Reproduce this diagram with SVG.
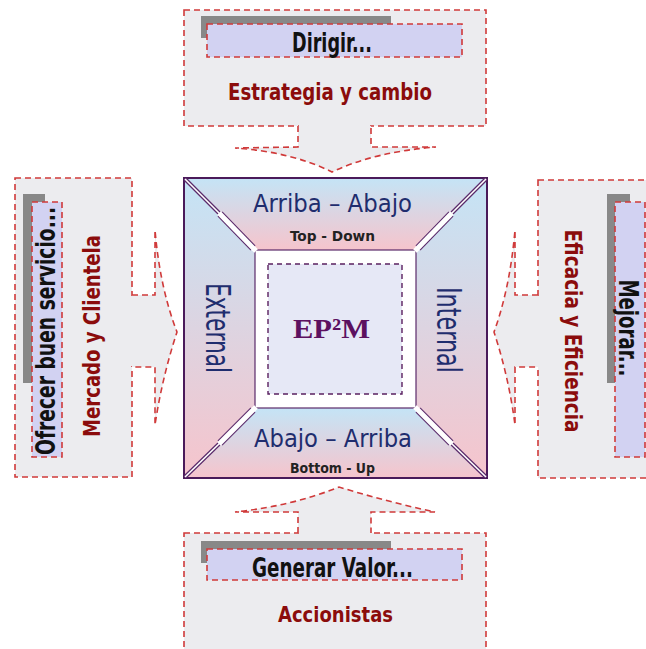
<svg xmlns="http://www.w3.org/2000/svg" width="646" height="649" viewBox="0 0 646 649">
<defs>
<linearGradient id="g" x1="0" y1="0" x2="0" y2="1">
<stop offset="0" stop-color="#c4e4f6"/>
<stop offset="1" stop-color="#f6c4cc"/>
</linearGradient>
<style>
.box{fill:#ececef;stroke:#d03a3a;stroke-width:1.6;stroke-dasharray:6 4}
.arrow{fill:#ececef;stroke:#d03a3a;stroke-width:1.6;stroke-dasharray:6 4}
.cover{fill:#ececef}
.shadow{fill:#888888}
.lab{fill:#d2d2f2;stroke:#d03a3a;stroke-width:1.6;stroke-dasharray:6 4}
.t1{font-family:'DejaVu Sans Condensed','DejaVu Sans',sans-serif;font-stretch:condensed;font-weight:bold;fill:#111111;text-anchor:middle}
.t2{font-family:'DejaVu Sans Condensed','DejaVu Sans',sans-serif;font-stretch:condensed;font-weight:bold;fill:#8b0c0c;text-anchor:middle}
.t3{font-family:'DejaVu Sans Condensed','DejaVu Sans',sans-serif;font-stretch:condensed;fill:#1f2d6e;text-anchor:middle}
.t4{font-family:'DejaVu Sans Condensed','DejaVu Sans',sans-serif;font-stretch:condensed;font-weight:bold;fill:#222222;text-anchor:middle}
.dgo{stroke:#5a2a6a;stroke-width:4;stroke-linecap:butt}
.dgi{stroke:#ffffff;stroke-width:1.6}
.dgo2{stroke:#5a2a6a;stroke-width:7}
.dgi2{stroke:#ffffff;stroke-width:5}
</style>
</defs>
<rect width="646" height="649" fill="#ffffff"/>

<g id="node-top">
<rect class="box" x="184" y="10" width="302" height="116"/>
<rect class="shadow" x="201" y="16" width="190" height="22"/>
<rect class="lab" x="207" y="24" width="255" height="33"/>
<text class="t1" x="332" y="52" font-size="26" textLength="80" lengthAdjust="spacingAndGlyphs">Dirigir...</text>
<text class="t2" x="330" y="100" font-size="23" textLength="204" lengthAdjust="spacingAndGlyphs">Estrategia y cambio</text>
</g>

<g id="node-bottom">
<rect class="box" x="184" y="533" width="302" height="130"/>
<rect class="shadow" x="201" y="541" width="190" height="22"/>
<rect class="lab" x="207" y="549" width="255" height="31"/>
<text class="t1" x="332.5" y="577" font-size="27" textLength="161" lengthAdjust="spacingAndGlyphs">Generar Valor...</text>
<text class="t2" x="335.5" y="622" font-size="22" textLength="115" lengthAdjust="spacingAndGlyphs">Accionistas</text>
</g>

<g id="node-left">
<rect class="box" x="15" y="178" width="117" height="299"/>
<rect class="shadow" x="23" y="194" width="22" height="189"/>
<rect class="lab" x="32" y="202" width="30" height="255"/>
<text class="t1" transform="translate(55,331) rotate(-90)" font-size="26" textLength="248" lengthAdjust="spacingAndGlyphs">Ofrecer buen servicio...</text>
<text class="t2" transform="translate(100,336) rotate(-90)" font-size="23" textLength="202" lengthAdjust="spacingAndGlyphs">Mercado y Clientela</text>
</g>

<g id="node-right">
<rect class="box" x="538" y="180" width="120" height="298"/>
<rect class="shadow" x="607" y="194" width="23" height="189"/>
<rect class="lab" x="615" y="202" width="30" height="255"/>
<text class="t1" transform="translate(619,328) rotate(90)" font-size="26" textLength="97" lengthAdjust="spacingAndGlyphs">Mejorar...</text>
<text class="t2" transform="translate(565,331) rotate(90)" font-size="23" textLength="203" lengthAdjust="spacingAndGlyphs">Eficacia y Eficiencia</text>
</g>

<g id="connectors">
<rect class="cover" x="299" y="124" width="71" height="4"/>
<path class="arrow" d="M298,126 V147 L235,148 Q292,152 332,172 Q374,152 436,147 L371,147 V126"/>
<rect class="cover" x="299" y="531" width="71" height="4"/>
<path class="arrow" d="M298,533 V512 L235,512 Q292,506 339,487 Q388,502 435,512 L371,512 V533"/>
<rect class="cover" x="130" y="296" width="4" height="70"/>
<path class="arrow" d="M132,295 H155 L155,230 Q160,288 177,332 Q162,378 155,425 L155,367 H132"/>
<rect class="cover" x="536" y="296" width="4" height="70"/>
<path class="arrow" d="M538,295 H515 L515,230 Q510,288 494,332 Q509,378 515,425 L515,367 H538"/>
</g>

<g id="node-center">
<polygon points="184,178 487,178 416,250 255,250" fill="url(#g)"/>
<polygon points="255,408 416,408 487,478 184,478" fill="url(#g)"/>
<polygon points="184,178 255,250 255,408 184,478" fill="url(#g)"/>
<polygon points="487,178 487,478 416,408 416,250" fill="url(#g)"/>
<rect x="255" y="250" width="161" height="158" fill="#ffffff" stroke="#5a2a6a" stroke-width="1.2"/>
<rect x="184" y="178" width="303" height="300" fill="none" stroke="#4a1a5a" stroke-width="2"/>
<line class="dgo" x1="185" y1="179" x2="222" y2="216"/>
<line class="dgi" x1="185" y1="179" x2="222" y2="216"/>
<line class="dgo2" x1="220" y1="214" x2="253" y2="248"/>
<line class="dgi2" x1="219" y1="213" x2="256" y2="251"/>
<line class="dgo" x1="486" y1="179" x2="449" y2="216"/>
<line class="dgi" x1="486" y1="179" x2="449" y2="216"/>
<line class="dgo2" x1="451" y1="214" x2="418" y2="248"/>
<line class="dgi2" x1="452" y1="213" x2="415" y2="251"/>
<line class="dgo" x1="185" y1="477" x2="222" y2="441"/>
<line class="dgi" x1="185" y1="477" x2="222" y2="441"/>
<line class="dgo2" x1="220" y1="443" x2="253" y2="410"/>
<line class="dgi2" x1="219" y1="444" x2="256" y2="407"/>
<line class="dgo" x1="486" y1="477" x2="449" y2="441"/>
<line class="dgi" x1="486" y1="477" x2="449" y2="441"/>
<line class="dgo2" x1="451" y1="443" x2="418" y2="410"/>
<line class="dgi2" x1="452" y1="444" x2="415" y2="407"/>
<rect x="268" y="264" width="134" height="130" fill="#e6e8f6" stroke="#5a2060" stroke-width="1.4" stroke-dasharray="5 4"/>
<text x="331.5" y="338" font-family="'Liberation Serif','DejaVu Serif',serif" font-weight="bold" font-size="28" fill="#5c1160" text-anchor="middle" textLength="77" lengthAdjust="spacingAndGlyphs">EP²M</text>
<text class="t3" x="332.5" y="212" font-size="24" textLength="159" lengthAdjust="spacingAndGlyphs">Arriba – Abajo</text>
<text class="t4" x="332.5" y="241" font-size="14" textLength="85" lengthAdjust="spacingAndGlyphs">Top - Down</text>
<text class="t3" x="333" y="447" font-size="24" textLength="158" lengthAdjust="spacingAndGlyphs">Abajo – Arriba</text>
<text class="t4" x="332.5" y="473" font-size="14" textLength="85" lengthAdjust="spacingAndGlyphs">Bottom - Up</text>
<text class="t3" transform="translate(206,328) rotate(90)" font-size="34" textLength="90" lengthAdjust="spacingAndGlyphs">External</text>
<text class="t3" transform="translate(437,330) rotate(90)" font-size="34" textLength="86" lengthAdjust="spacingAndGlyphs">Internal</text>
</g>
</svg>
